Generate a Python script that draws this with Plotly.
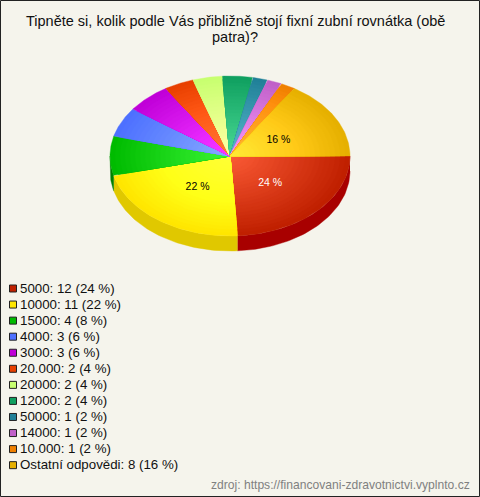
import numpy as np
import plotly.graph_objects as go

title_lines = ["Tipněte si, kolik podle Vás přibližně stojí fixní zubní rovnátka (obě", "patra)?"]
source = "zdroj: https://financovani-zdravotnictvi.vyplnto.cz"
answers = ["5000", "10000", "15000", "4000", "3000", "20.000", "20000", "12000",
           "50000", "14000", "10.000", "Ostatní odpovědi"]
counts = [12, 11, 4, 3, 3, 2, 2, 2, 1, 1, 1, 8]
colors = ["#c02000", "#ffe600", "#00bb00", "#4d70ff", "#c000d8", "#e84000",
          "#c8ff70", "#10a060", "#208098", "#c060c8", "#f08000", "#e6b000"]
side_colors = ["#a80000", "#e0c800", "#008000"]
labelled = [0, 1, 11]

W, H = 480, 497
CX, CY, RX, RY, DEPTH = 230, 156, 120, 80, 15
BANDS = 24
total = sum(counts)


def rgb(hex_color):
    return np.array([int(hex_color[i:i + 2], 16) for i in (1, 3, 5)], dtype=float)


def css(c):
    c = np.clip(c, 0, 255).round().astype(int)
    return f"rgb({c[0]},{c[1]},{c[2]})"


def add_poly(fig, x, y, color):
    fig.add_trace(go.Scatter(x=x, y=y, mode="lines", fill="toself", fillcolor=color,
                             line=dict(width=0.4, color=color), hoverinfo="skip"))


fig = go.Figure()
edges = np.cumsum([0] + counts) / total * 2 * np.pi

# side wall, only the front half of the disc shows
for i, side in enumerate(side_colors):
    a0, a1 = edges[i], min(edges[i + 1], np.pi)
    t = np.linspace(a0, a1, 60)
    x = CX + RX * np.cos(t)
    y = CY + RY * np.sin(t)
    add_poly(fig, np.r_[x, x[::-1]], np.r_[y, (y + DEPTH)[::-1]], side)

# top of the disc, nested sectors give the radial shading
for i, color in enumerate(colors):
    t = np.linspace(edges[i], edges[i + 1], 60)
    base = rgb(color)
    for b in range(BANDS):
        f = 1 - b / BANDS
        shade = base + (1 - f) * np.array([60, 60, 55])
        x = np.r_[CX, CX + f * RX * np.cos(t), CX]
        y = np.r_[CY, CY + f * RY * np.sin(t), CY]
        add_poly(fig, x, y, css(shade))

# percent labels on the big slices
for i in labelled:
    mid = (edges[i] + edges[i + 1]) / 2
    fig.add_trace(go.Scatter(
        x=[CX + 0.46 * RX * np.cos(mid)], y=[CY + 2 + 0.46 * RY * np.sin(mid)],
        mode="text", text=[f"{counts[i] * 100 / total:.0f} %"],
        textposition="middle center",
        textfont=dict(size=10.5, color="white" if i == 0 else "black"),
        hoverinfo="skip"))

# legend
rows = [288.5 + 16.06 * i for i in range(len(answers))]
fig.add_trace(go.Scatter(
    x=[13] * len(answers), y=rows, mode="markers",
    marker=dict(symbol="square", size=7, color=colors, line=dict(width=1, color="#222")),
    hoverinfo="skip"))
fig.add_trace(go.Scatter(
    x=[20] * len(answers), y=[r + 1 for r in rows], mode="text",
    text=[f"{a}: {c} ({c * 100 / total:.0f} %)" for a, c in zip(answers, counts)],
    textposition="middle right", textfont=dict(size=13.3, color="#111"),
    hoverinfo="skip"))

for line, y in zip(title_lines, [21, 37]):
    fig.add_annotation(x=W / 2 - 5, y=y, text=line, showarrow=False,
                       font=dict(size=14.5, color="#111"))
fig.add_annotation(x=472, y=485, text=source, showarrow=False, xanchor="right",
                   font=dict(size=12.1, color="#808080"))
fig.add_shape(type="rect", x0=0.5, y0=0.5, x1=W - 0.5, y1=H - 0.5,
              line=dict(color="#222", width=1))

fig.update_xaxes(range=[0, W], visible=False, fixedrange=True)
fig.update_yaxes(range=[H, 0], visible=False, fixedrange=True)
fig.update_layout(width=W, height=H, margin=dict(l=0, r=0, t=0, b=0),
                  paper_bgcolor="#f5f4ec", plot_bgcolor="#f5f4ec", showlegend=False,
                  font=dict(family="Liberation Sans, Arial, sans-serif"))

fig.write_html("out.html", config={"displayModeBar": False},
               post_script="document.body.style.margin='0';document.body.style.overflow='hidden';")
